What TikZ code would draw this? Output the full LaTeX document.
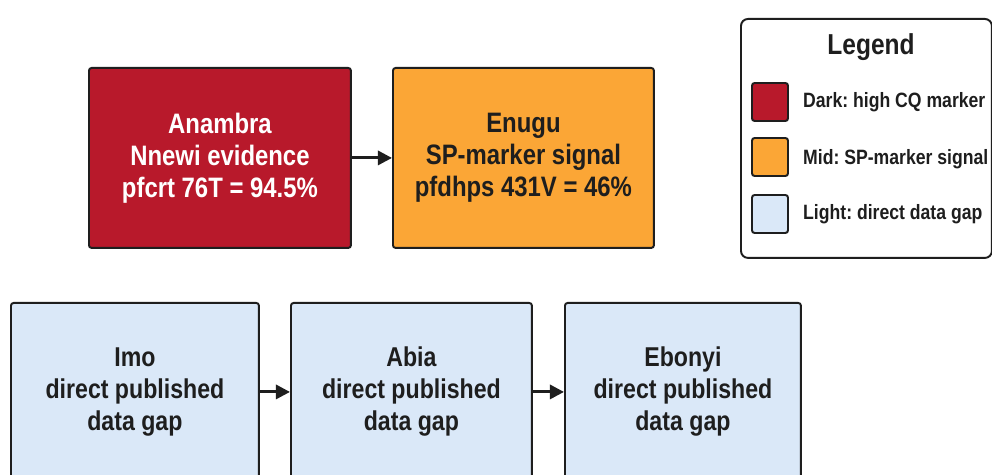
\documentclass[tikz,border=0pt]{standalone}
\usepackage{fontspec}
\setmainfont{Liberation Sans}[FakeStretch=0.85]
\frenchspacing
\usetikzlibrary{arrows.meta}

\definecolor{cqred}{HTML}{B8192B}
\definecolor{spamber}{HTML}{FBA636}
\definecolor{gapblue}{HTML}{DAE8F8}
\definecolor{inkgray}{HTML}{1E1E1E}

\tikzset{
  region/.style={draw=inkgray, line width=1.1pt, rounded corners=1.5pt, align=center,
    anchor=north west, text=inkgray, font=\bfseries\fontsize{16}{18.2}\selectfont},
  highbox/.style={region, fill=cqred, text=white, minimum width=5.24cm, minimum height=3.6cm},
  midbox/.style={region, fill=spamber, minimum width=5.22cm, minimum height=3.6cm},
  gapbox/.style={region, fill=gapblue, minimum height=3.56cm,
    font=\bfseries\fontsize{15.5}{18.2}\selectfont},
  swatch/.style={draw=inkgray, line width=1.1pt, rounded corners=1.5pt,
    minimum width=0.72cm, minimum height=0.76cm},
  keytext/.style={anchor=west, text=inkgray, font=\bfseries\fontsize{11.8}{14}\selectfont},
  link/.style={-{Triangle[length=8pt,width=8pt]}, line width=1.7pt, draw=inkgray}
}

\begin{document}
\begin{tikzpicture}[x=0.02cm, y=-0.02cm]
  \useasboundingbox (0,0) rectangle (992,475);
  \clip (0,0) rectangle (992,475);
  \fill[white] (0,0) rectangle (992,475);

  \node[highbox] (anambra) at (88,67) {Anambra\\Nnewi evidence\\pfcrt 76T = 94.5\%};
  \node[midbox] (enugu) at (392,67) {Enugu\\SP-marker signal\\pfdhps 431V = 46\%};
  \draw[link] (anambra) -- (enugu);

  \node[gapbox, minimum width=4.96cm] (imo) at (10,302) {Imo\\direct published\\data gap};
  \node[gapbox, minimum width=4.82cm] (abia) at (290,302) {Abia\\direct published\\data gap};
  \node[gapbox, minimum width=4.72cm] (ebonyi) at (564,302) {Ebonyi\\direct published\\data gap};
  \draw[link] (imo) -- (abia);
  \draw[link] (abia) -- (ebonyi);

  % legend
  \node[draw=inkgray, line width=1.1pt, rounded corners=4pt, fill=white, anchor=north west,
    minimum width=5.02cm, minimum height=4.78cm] (legend) at (740,18) {};
  \node[text=inkgray, font=\bfseries\fontsize{16.4}{18}\selectfont] (legendtitle) at (871,47) {Legend};
  \node[swatch, fill=cqred] (keyhigh) at (770,102) {};
  \node[swatch, fill=spamber] (keymid) at (770,157) {};
  \node[swatch, fill=gapblue] (keygap) at (770,214) {};
  \node[keytext] (keyhightext) at (797,102) {Dark: high CQ marker};
  \node[keytext] (keymidtext) at (797,159) {Mid: SP-marker signal};
  \node[keytext] (keygaptext) at (797,214) {Light: direct data gap};
\end{tikzpicture}
\end{document}
